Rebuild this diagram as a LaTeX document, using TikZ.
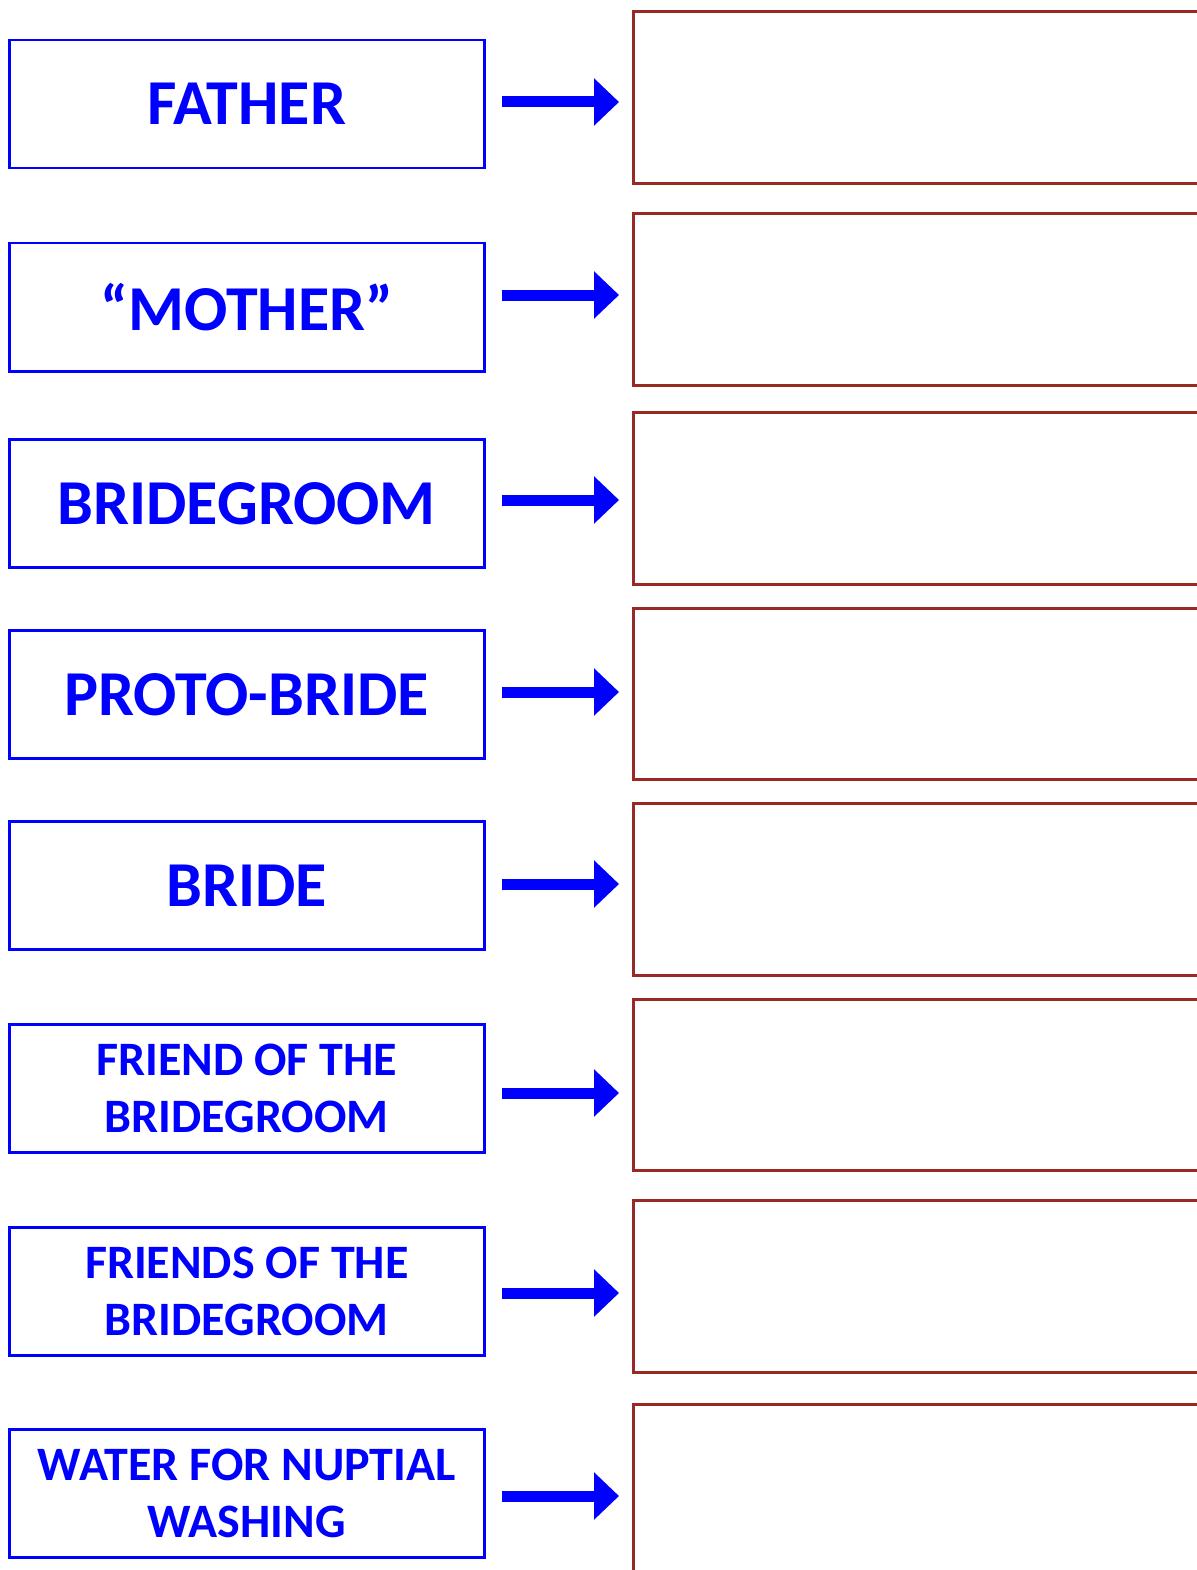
\documentclass[tikz,border=0pt]{standalone}
\usepackage{fontspec}
\setmainfont{Carlito}
\usepackage{tikz}
\usetikzlibrary{arrows.meta}
\definecolor{boxblue}{rgb}{0.00,0.00,1.00}
\definecolor{boxred}{rgb}{0.60,0.16,0.14}

\begin{document}
\begin{tikzpicture}[x=1pt,y=-1pt,
   role/.style={draw=boxblue,line width=2.5pt,text=boxblue,anchor=north west,
                minimum width=475pt,minimum height=128pt,inner sep=0pt,align=center,
                font=\fontsize{64}{70}\selectfont\bfseries},
   rolesm/.style={role,font=\fontsize{48}{57}\selectfont\bfseries},
   blank/.style={draw=boxred,line width=3pt,anchor=north west,
                 minimum width=600pt,minimum height=172pt,inner sep=0pt},
   arr/.style={boxblue,line width=11pt,-{Triangle[length=25pt,width=46pt]},
               shorten <=16pt,shorten >=13pt}]
  \useasboundingbox (0,0) rectangle (1196,1570);
  % left column: the names
  \node[role] (l1) at (8,39) {FATHER};
  \node[role] (l2) at (8,242) {“MOTHER”};
  \node[role] (l3) at (8,438) {BRIDEGROOM};
  \node[role] (l4) at (8,629) {PROTO-BRIDE};
  \node[role] (l5) at (8,820) {BRIDE};
  \node[rolesm] (l6) at (8,1023) {FRIEND OF THE\\BRIDEGROOM};
  \node[rolesm] (l7) at (8,1226) {FRIENDS OF THE\\BRIDEGROOM};
  \node[rolesm] (l8) at (8,1428) {WATER FOR NUPTIAL\\WASHING};
  % right column: empty boxes to fill in
  \node[blank] (r1) at (632,10) {};
  \node[blank] (r2) at (632,212) {};
  \node[blank] (r3) at (632,411) {};
  \node[blank,minimum height=171pt] (r4) at (632,607) {};
  \node[blank] (r5) at (632,802) {};
  \node[blank,minimum height=171pt] (r6) at (632,998) {};
  \node[blank] (r7) at (632,1199) {};
  \node[blank] (r8) at (632,1403) {};
  % arrows
  \draw[arr] (l1.east |- 0,102) -- (r1.west |- 0,102);
  \draw[arr] (l2.east |- 0,295) -- (r2.west |- 0,295);
  \draw[arr] (l3.east |- 0,500) -- (r3.west |- 0,500);
  \draw[arr] (l4.east |- 0,692) -- (r4.west |- 0,692);
  \draw[arr] (l5.east |- 0,884) -- (r5.west |- 0,884);
  \draw[arr] (l6.east |- 0,1093) -- (r6.west |- 0,1093);
  \draw[arr] (l7.east |- 0,1293) -- (r7.west |- 0,1293);
  \draw[arr] (l8.east |- 0,1496) -- (r8.west |- 0,1496);
\end{tikzpicture}
\end{document}
